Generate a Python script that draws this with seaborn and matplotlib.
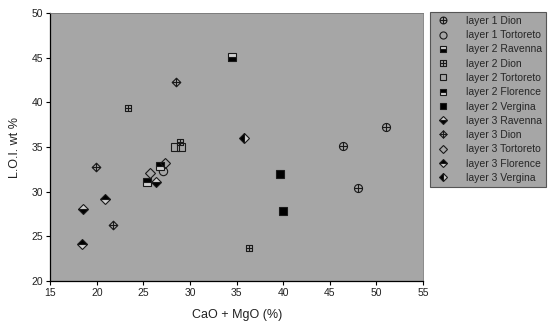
import matplotlib
matplotlib.use('Agg')
import matplotlib.pyplot as plt
import seaborn as sns
from matplotlib.path import Path

# values (CaO + MgO %, L.O.I. wt %)
l1_dion_x = [46.4, 51.0, 48.0]
l1_dion_y = [35.1, 37.2, 30.4]
l1_tort_x = [27.1]
l1_tort_y = [32.3]
l2_rav_x = [34.5]
l2_rav_y = [45.1]
l2_dion_x = [23.3, 28.9, 36.3]
l2_dion_y = [39.4, 35.6, 23.7]
l2_tort_x = [28.4, 29.0]
l2_tort_y = [35.0, 35.0]
l2_flor_x = [25.4, 26.8]
l2_flor_y = [31.1, 32.9]
l2_verg_x = [39.7, 40.0]
l2_verg_y = [32.0, 27.8]
l3_rav_x = [18.5, 26.3]
l3_rav_y = [28.1, 31.1]
l3_dion_x = [28.5, 19.9, 21.7]
l3_dion_y = [42.3, 32.8, 26.3]
l3_tort_x = [27.3, 25.7]
l3_tort_y = [33.2, 32.1]
l3_flor_x = [20.9, 18.4]
l3_flor_y = [29.2, 24.1]
l3_verg_x = [35.8]
l3_verg_y = [36.0]

x_ticks = [15, 20, 25, 30, 35, 40, 45, 50, 55]
y_ticks = [20, 25, 30, 35, 40, 45, 50]


def crossed(base):
    # outline marker with a plus drawn through it
    cross = Path([[-1, 0], [1, 0], [0, -1], [0, 1]],
                 [Path.MOVETO, Path.LINETO, Path.MOVETO, Path.LINETO])
    return Path.make_compound_path(base, cross)


square_path = Path([[-1, -1], [1, -1], [1, 1], [-1, 1], [-1, -1]], closed=True)
diamond_path = Path([[0, -1], [1, 0], [0, 1], [-1, 0], [0, -1]], closed=True)
circle_plus = crossed(Path.unit_circle())
square_plus = crossed(square_path)
diamond_plus = crossed(diamond_path)

sns.set_theme(style="ticks")
plt.rcParams['font.family'] = ['Liberation Sans', 'DejaVu Sans']

fig = plt.figure(figsize=(5.49, 3.24), dpi=100)
ax = fig.add_axes([0.0916, 0.1327, 0.679, 0.827])
ax.set_facecolor('#a6a6a6')

edge = '#1a1a1a'
alt = '#d0d0d0'
series = [
    ('layer 1 Dion', l1_dion_x, l1_dion_y, dict(marker=circle_plus, markersize=5.8, markerfacecolor='none')),
    ('layer 1 Tortoreto', l1_tort_x, l1_tort_y, dict(marker='o', markersize=6, markerfacecolor='none')),
    ('layer 2 Ravenna', l2_rav_x, l2_rav_y, dict(marker='s', markersize=5.2, markerfacecolor='black',
                                                 fillstyle='bottom', markerfacecoloralt=alt)),
    ('layer 2 Dion', l2_dion_x, l2_dion_y, dict(marker=square_plus, markersize=4.8, markerfacecolor='none')),
    ('layer 2 Tortoreto', l2_tort_x, l2_tort_y, dict(marker='s', markersize=5.2, markerfacecolor='none')),
    ('layer 2 Florence', l2_flor_x, l2_flor_y, dict(marker='s', markersize=5.2, markerfacecolor='black',
                                                    fillstyle='top', markerfacecoloralt=alt)),
    ('layer 2 Vergina', l2_verg_x, l2_verg_y, dict(marker='s', markersize=5.2, markerfacecolor='black')),
    ('layer 3 Ravenna', l3_rav_x, l3_rav_y, dict(marker='D', markersize=5.2, markerfacecolor='black',
                                                 fillstyle='bottom', markerfacecoloralt=alt)),
    ('layer 3 Dion', l3_dion_x, l3_dion_y, dict(marker=diamond_plus, markersize=6.2, markerfacecolor='none')),
    ('layer 3 Tortoreto', l3_tort_x, l3_tort_y, dict(marker='D', markersize=5.2, markerfacecolor='none')),
    ('layer 3 Florence', l3_flor_x, l3_flor_y, dict(marker='D', markersize=5.2, markerfacecolor='black',
                                                    fillstyle='top', markerfacecoloralt=alt)),
    ('layer 3 Vergina', l3_verg_x, l3_verg_y, dict(marker='D', markersize=5.2, markerfacecolor='black',
                                                   fillstyle='left', markerfacecoloralt=alt)),
]

for label, xs, ys, style in series:
    sns.lineplot(x=xs, y=ys, ax=ax, estimator=None, sort=False, linestyle='',
                 color=edge, markeredgecolor=edge, markeredgewidth=0.8,
                 label=label, **style)

ax.set_xlim(15, 55)
ax.set_ylim(20, 50)
ax.set_xticks(x_ticks)
ax.set_yticks(y_ticks)
ax.tick_params(labelsize=7.5, length=3, width=0.8, color='black', pad=2, labelcolor='#222222')
for side in ['left', 'bottom']:
    ax.spines[side].set_color('black')
    ax.spines[side].set_linewidth(0.9)
for side in ['top', 'right']:
    ax.spines[side].set_color('#777777')
    ax.spines[side].set_linewidth(0.6)

ax.set_xlabel('CaO + MgO (%)', fontsize=9, labelpad=8, color='#222222')
ax.set_ylabel('L.O.I. wt %', fontsize=9, labelpad=8, color='#222222')

leg = ax.legend(loc='upper left', bbox_to_anchor=(0.783, 0.962), bbox_transform=fig.transFigure,
                fontsize=7.5, frameon=True, fancybox=False, labelspacing=0.41, markerscale=0.85,
                handlelength=1.8, handletextpad=1.35, borderpad=0.35, borderaxespad=0)
leg.get_frame().set_facecolor('#a6a6a6')
leg.get_frame().set_edgecolor('#555555')
leg.get_frame().set_linewidth(0.8)
leg.get_frame().set_alpha(1)

fig.savefig('out.png', dpi=100)
plt.close(fig)
